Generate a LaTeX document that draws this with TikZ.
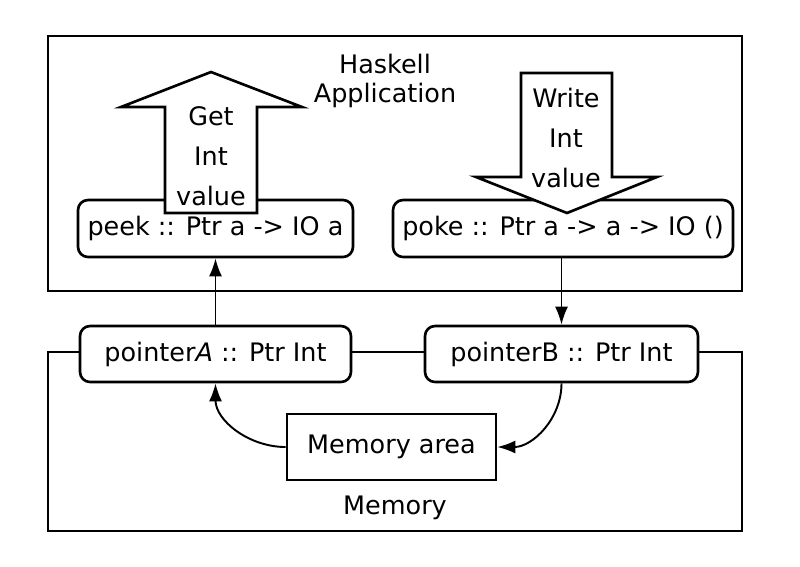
\documentclass[tikz,border=0pt]{standalone}
\usepackage{fontspec}
\setmainfont{DejaVu Sans}
\usetikzlibrary{arrows.meta}
\tikzset{
  >={Latex[length=3.6mm,width=2.6mm]},
  frame/.style={draw, line width=1.5pt, inner sep=0pt},
  fnbox/.style={draw, line width=1.5pt, rounded corners=0.2cm, fill=white, inner sep=0pt, minimum height=1.14cm},
  bigarrow/.style={draw, line width=1.5pt, fill=white, line join=miter},
  arrowtext/.style={align=center, inner sep=0pt, font=\fontsize{14.5}{22.8}\selectfont},
  link/.style={->, line width=1.1pt},
}
\begin{document}
\begin{tikzpicture}[x=0.02cm, y=-0.02cm, font=\fontsize{14.5}{17}\selectfont]
		\useasboundingbox (0,0) rectangle (800,566);
		% frames
		\node[frame, minimum width=13.88cm, minimum height=5.1cm] (app) at (395,163.5) {};
		\node[frame, minimum width=13.88cm, minimum height=3.58cm] (mem) at (395,441.5) {};
		\node[align=center, inner sep=0pt] (hask) at (385,81) {Haskell\\Application};
		\node (memlabel) at (395,508) {Memory};
		
		% functions
		\node[fnbox, minimum width=5.5cm] (peek) at (215.5,228.5) {peek :: Ptr a -> IO a};
		\node[fnbox, minimum width=6.8cm] (poke) at (563,228.5) {poke :: Ptr a -> a -> IO ()};
		
		% pointers and memory area
		\node[fnbox, minimum width=5.42cm, minimum height=1.12cm] (ptrA) at (215.5,354) {pointer\textit{A} :: Ptr Int};
		\node[fnbox, minimum width=5.46cm, minimum height=1.12cm] (ptrB) at (561.5,354) {pointerB :: Ptr Int};
		\node[draw, line width=1.5pt, fill=white, minimum width=4.18cm, minimum height=1.32cm] (area) at (391.5,447) {Memory area};
		
		% big arrows
		\draw[bigarrow] (165,213) -- (165,107) -- (121,107) -- (211,72) -- (302,107) -- (257,107) -- (257,213) -- cycle;
		\node[arrowtext] (getval) at (211,156) {Get\\Int\\value};
		\draw[bigarrow] (521,73) -- (612,73) -- (612,177) -- (657,177) -- (567,213) -- (476,177) -- (521,177) -- cycle;
		\node[arrowtext] (writeval) at (566,138) {Write\\Int\\value};
		
		\path [link] (ptrA) edge (peek);
		\path [link] (poke.south -| ptrB) edge (ptrB);
		\draw [link] (area.west) to[out=180, in=-90] (ptrA.south);
		\draw [link] (ptrB.south) to[out=-90, in=0] (area.east);
		\end{tikzpicture}
\end{document}
